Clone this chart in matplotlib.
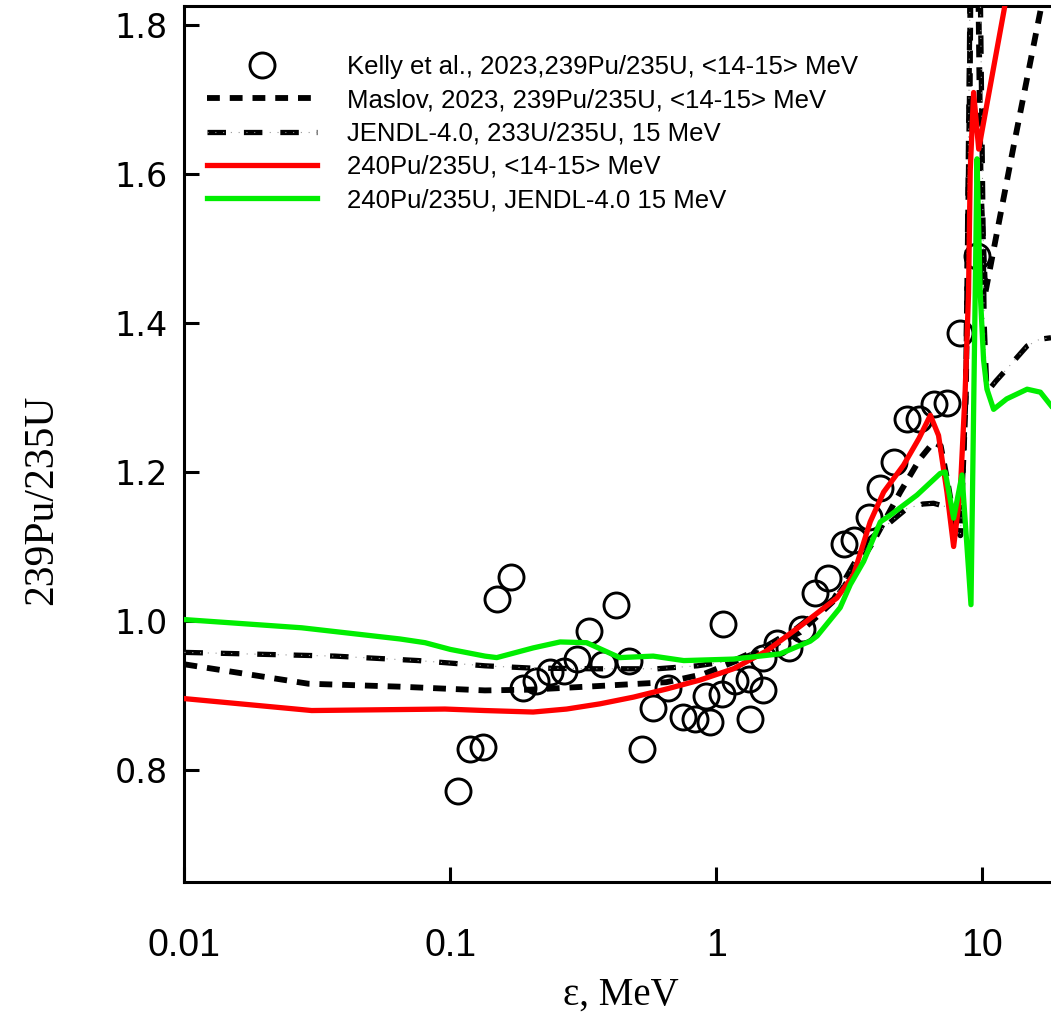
import numpy as np
import matplotlib
matplotlib.use("Agg")
import matplotlib.pyplot as plt
from matplotlib.ticker import FixedLocator, FixedFormatter, NullLocator

# ---- data ----
# Kelly et al., 2023, 239Pu/235U (points)
kelly_e = [0.107, 0.119, 0.133, 0.150, 0.169, 0.188, 0.210, 0.238, 0.267, 0.299,
           0.333, 0.377, 0.421, 0.472, 0.526, 0.581, 0.659, 0.750, 0.834, 0.918,
           0.945, 1.051, 1.061, 1.180, 1.325, 1.336, 1.500, 1.500, 1.693, 1.873,
           2.10, 2.36, 2.64, 3.02, 3.29, 3.75, 4.15, 4.66, 5.22, 5.78,
           6.58, 7.39, 8.29, 9.59]
kelly_r = [0.772, 0.829, 0.831, 1.030, 1.059, 0.910, 0.920, 0.932, 0.933, 0.949,
           0.987, 0.942, 1.022, 0.946, 0.828, 0.884, 0.910, 0.871, 0.868, 0.900,
           0.864, 0.902, 0.996, 0.920, 0.922, 0.869, 0.907, 0.951, 0.971, 0.964,
           0.989, 1.038, 1.058, 1.104, 1.109, 1.140, 1.178, 1.213, 1.271, 1.271,
           1.291, 1.293, 1.387, 1.489]

# Maslov, 2023, 239Pu/235U
maslov_e = [0.01, 0.0292, 0.0647, 0.135, 0.2, 0.366, 0.65, 0.9, 1.16, 1.55,
            2.07, 2.77, 3.3, 3.91, 4.93, 5.86, 6.58, 7.0, 7.4, 7.9, 8.3,
            8.7, 9.0, 9.2, 9.5, 9.7, 9.9, 10.3, 13.15, 16.6, 18.2]
maslov_r = [0.942, 0.916, 0.912, 0.907, 0.908, 0.913, 0.918, 0.929, 0.945, 0.963,
            0.985, 1.027, 1.065, 1.107, 1.173, 1.218, 1.240, 1.235, 1.19, 1.13, 1.115,
            1.30, 1.70, 2.20, 2.20, 1.85, 1.58, 1.44, 1.636, 1.818, 1.90]

# JENDL-4.0, 233U/235U, 15 MeV
jendl_e = [0.01, 0.0368, 0.0759, 0.135, 0.2, 0.35, 0.6, 0.85, 1.16, 1.55,
           2.0, 2.77, 3.69, 4.40, 5.22, 6.0, 6.58, 7.4, 7.8, 8.3, 8.7,
           9.0, 9.2, 9.6, 9.9, 10.2, 10.45, 11.3, 12.4, 14.8, 16.5, 18.2]
jendl_r = [0.958, 0.953, 0.947, 0.940, 0.937, 0.936, 0.936, 0.940, 0.947, 0.967,
           0.990, 1.030, 1.107, 1.129, 1.151, 1.157, 1.158, 1.153, 1.130, 1.113, 1.30,
           1.80, 2.20, 2.20, 1.80, 1.40, 1.307, 1.322, 1.338, 1.369, 1.378, 1.380]

# 240Pu/235U, <14-15> MeV
red_e = [0.01, 0.0301, 0.0955, 0.135, 0.205, 0.274, 0.366, 0.489, 0.653, 0.872,
         1.162, 1.55, 2.07, 2.85, 3.29, 3.80, 4.27, 5.07, 5.8, 6.40, 6.87,
         7.39, 7.83, 8.29, 8.65, 8.91, 9.04, 9.31, 9.73, 12.1, 14.0]
red_r = [0.896, 0.880, 0.882, 0.880, 0.878, 0.882, 0.889, 0.898, 0.909, 0.921,
         0.936, 0.960, 0.993, 1.031, 1.062, 1.133, 1.173, 1.209, 1.245, 1.276, 1.249,
         1.173, 1.100, 1.173, 1.307, 1.440, 1.604, 1.709, 1.633, 1.818, 1.95]

# 240Pu/235U, JENDL-4.0 15 MeV
green_e = [0.01, 0.0276, 0.0647, 0.0804, 0.1, 0.135, 0.1496, 0.205, 0.259, 0.326,
           0.434, 0.58, 0.756, 1.16, 1.74, 2.26, 2.4, 2.93, 3.2, 3.59,
           4.15, 4.52, 5.70, 6.97, 7.28, 7.83, 8.42, 9.10, 9.59, 9.86,
           10.15, 10.45, 11.07, 12.4, 14.8, 16.6, 18.2]
green_r = [1.002, 0.991, 0.976, 0.971, 0.962, 0.953, 0.951, 0.964, 0.972, 0.971,
           0.951, 0.953, 0.947, 0.949, 0.956, 0.973, 0.980, 1.018, 1.049, 1.080,
           1.133, 1.142, 1.169, 1.198, 1.200, 1.138, 1.196, 1.022, 1.620, 1.440,
           1.350, 1.311, 1.284, 1.298, 1.311, 1.307, 1.289]

x_ticks = [0.01, 0.1, 1, 10]
x_tick_labels = ["0.01", "0.1", "1", "10"]
y_ticks = [0.8, 1.0, 1.2, 1.4, 1.6, 1.8]
y_tick_labels = ["0.8", "1.0", "1.2", "1.4", "1.6", "1.8"]

labels = ["Kelly et al., 2023,239Pu/235U, <14-15> MeV",
          "Maslov, 2023, 239Pu/235U, <14-15> MeV",
          "JENDL-4.0, 233U/235U, 15 MeV",
          "240Pu/235U, <14-15> MeV",
          "240Pu/235U, JENDL-4.0 15 MeV"]

# ---- figure ----
fig = plt.figure(figsize=(10.51, 10.13), dpi=100)
ax = fig.add_axes([0.1755, 0.1293, 0.8245, 0.8648])

pts, = ax.plot(kelly_e, kelly_r, "o", ms=18, mfc="none", mec="black", mew=2.1,
               ls="none", zorder=3)
l_mas, = ax.plot(maslov_e, maslov_r, color="black", lw=4.2,
                 ls=(0, (2.2, 1.7)), zorder=4)
l_jen, = ax.plot(jendl_e, jendl_r, color="black", lw=3.8,
                 ls=(0, (3.5, 3.4)), zorder=4)
l_jen_dot, = ax.plot(jendl_e, jendl_r, color="#999999", lw=0.8,
                     ls=(0, (1, 6)), zorder=4)
l_red, = ax.plot(red_e, red_r, color="#ff0000", lw=3.8, zorder=5)
l_grn, = ax.plot(green_e, green_r, color="#00ee00", lw=3.8, zorder=6)

ax.set_xscale("log")
ax.set_xlim(0.01, 18.2)
ax.set_ylim(0.65, 1.825)

ax.xaxis.set_major_locator(FixedLocator(x_ticks))
ax.xaxis.set_major_formatter(FixedFormatter(x_tick_labels))
ax.xaxis.set_minor_locator(NullLocator())
ax.yaxis.set_major_locator(FixedLocator(y_ticks))
ax.yaxis.set_major_formatter(FixedFormatter(y_tick_labels))

ax.tick_params(axis="both", direction="in", length=11, width=2.2)
ax.tick_params(axis="x", pad=33, labelsize=27)
ax.tick_params(axis="y", pad=12, labelsize=24)
for lab in ax.get_xticklabels():
    lab.set_family("Liberation Sans")
for lab in ax.get_yticklabels():
    lab.set_family("DejaVu Sans")

for side in ["left", "bottom", "top"]:
    ax.spines[side].set_linewidth(2.2)
ax.spines["right"].set_visible(False)

ax.set_ylabel("239Pu/235U", family="Liberation Serif", fontsize=30)
ax.yaxis.set_label_coords(-0.142, 0.436)
ax.set_xlabel("ε, MeV", family="Liberation Serif", fontsize=28)
ax.xaxis.set_label_coords(0.503, -0.108)

leg = ax.legend([pts, l_mas, (l_jen, l_jen_dot), l_red, l_grn], labels,
                loc="upper left", bbox_to_anchor=(0.026, 0.944),
                frameon=False, borderpad=0, borderaxespad=0,
                handlelength=4.3, handletextpad=1.15, labelspacing=0.36,
                prop={"family": "Liberation Sans", "size": 18.5})

fig.savefig("out.png", dpi=100)
